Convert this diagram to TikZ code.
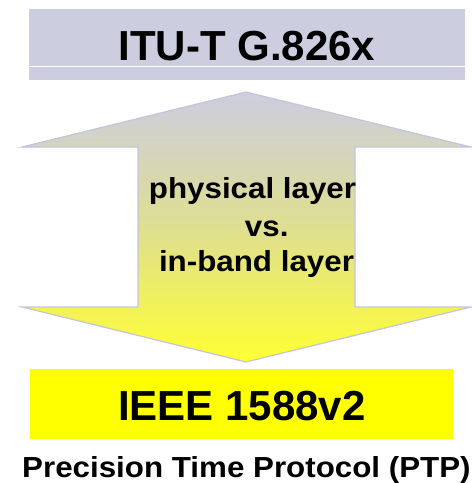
\documentclass[tikz,border=0pt]{standalone}
\usepackage{graphicx}
\usepackage{fontspec}
\setmainfont{Liberation Sans}
\definecolor{lav}{HTML}{CDCDE0}
\definecolor{lavline}{HTML}{C4C4DE}
\definecolor{ylw}{HTML}{FFFF00}
\definecolor{ylwlight}{HTML}{FFFF33}
\newcommand{\wide}[1]{\scalebox{1.08}[1]{#1}}
\tikzset{
  bigtext/.style={font=\bfseries\fontsize{42}{50}\selectfont, inner sep=0pt, anchor=base},
  midtext/.style={font=\bfseries\fontsize{29}{35}\selectfont, inner sep=0pt, anchor=base},
}
\begin{document}
\begin{tikzpicture}[x=1pt, y=-1pt]
            \useasboundingbox (0,0) rectangle (472,483);
            % boxes
            \fill[lav] (29,9) rectangle (465,80);
            \draw[white, line width=1pt] (29,66) -- (465,66);
            \fill[ylw] (30,369) rectangle (453,439);

            % double arrow
            \draw[lavline, line width=1.2pt, top color=lav, bottom color=ylwlight, middle color=ylwlight!45!lav!95!gray]
                (246,92) -- (471,147) -- (355,147) -- (355,307) -- (471,307) -- (246,362)
                -- (22,307) -- (138,307) -- (138,147) -- (22,147) -- cycle;

            \node (itu) [bigtext] at (247,60) {ITU-T G.826x};
            \node (ieee) [bigtext] at (242,420) {IEEE 1588v2};
            \node (phys) [midtext] at (252.5,198) {\wide{physical layer}};
            \node (vs) [midtext] at (266.7,236.7) {\wide{vs.}};
            \node (inband) [midtext] at (256.5,271.7) {\wide{in-band layer}};
            \node (ptp) [midtext, anchor=base west] at (22,477) {\wide{Precision Time Protocol (PTP)}};
        \end{tikzpicture}
\end{document}
